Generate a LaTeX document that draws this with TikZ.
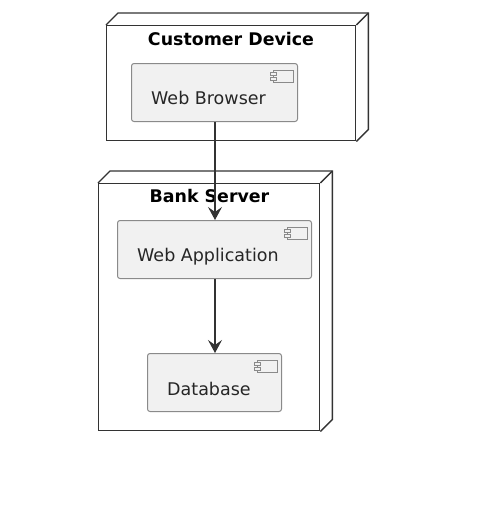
\documentclass[tikz,border=0pt]{standalone}
\usepackage{fontspec}
\setmainfont{DejaVu Sans}
\usetikzlibrary{arrows.meta}
\definecolor{boxfill}{HTML}{F1F1F1}
\definecolor{boxline}{HTML}{8A8A8A}
\definecolor{inkline}{HTML}{333333}
\tikzset{
  device/.style={draw=inkline, line width=1.4pt, inner sep=0pt, anchor=north west},
  devicetitle/.style={font=\bfseries\fontsize{17.4}{20}\selectfont, inner sep=0pt, text=black},
  component/.style={draw=boxline, fill=boxfill, line width=1pt, rounded corners=2.5pt, inner sep=0pt, anchor=north west},
  comptext/.style={font=\fontsize{17.5}{20}\selectfont, inner sep=0pt, anchor=west, text=black!85},
  icon/.style={draw=boxline, fill=boxfill, line width=1pt},
  flow/.style={draw=inkline, line width=1.2pt, -{Stealth[length=13pt,width=14pt,inset=5pt]}}
}

\begin{document}
\begin{tikzpicture}[x=1pt,y=-1pt]
      \useasboundingbox (0,0) rectangle (485,515);
      % the two devices
      \node[device, minimum width=249pt, minimum height=115pt] (customer) at (106,25) {};
      \node[device, minimum width=221pt, minimum height=247pt] (bank) at (98,183) {};
      \foreach \n in {customer,bank} {
        \draw[draw=inkline, line width=1.4pt] (\n.north west) -- ++(12,-12) -- ([shift={(12,-12)}]\n.north east) -- ([shift={(12,-12)}]\n.south east) -- (\n.south east);
        \draw[draw=inkline, line width=1.4pt] (\n.north east) -- ++(12,-12);
      }
      \node[devicetitle] (customertitle) at (231,39) {Customer Device};
      \node[devicetitle] (banktitle) at (209.5,196) {Bank Server};
      % components, text starts 20 from the left edge
      \foreach \n/\x/\y/\w/\d/\t in {browser/131/63/166/5/Web Browser,webapp/117/220/194/7/Web Application,database/147/353/134/6/Database} {
        \node[component, minimum width=\w pt, minimum height=58pt] (\n) at (\x,\y) {};
        \node[comptext] (\n text) at ([shift={(20,\d)}]\n.west) {\t};
        \draw[icon] ([shift={(-25,7)}]\n.north east) rectangle ([shift={(-5,19)}]\n.north east);
        \draw[icon] ([shift={(-28,9.5)}]\n.north east) rectangle ([shift={(-22,12.5)}]\n.north east);
        \draw[icon] ([shift={(-28,14)}]\n.north east) rectangle ([shift={(-22,17)}]\n.north east);
      }
      \draw[flow] ([xshift=.5pt]browser.south) -- ([xshift=.5pt]webapp.north);
      \draw[flow] ([xshift=.5pt]webapp.south) -- ([xshift=.5pt]database.north);
    \end{tikzpicture}
\end{document}
